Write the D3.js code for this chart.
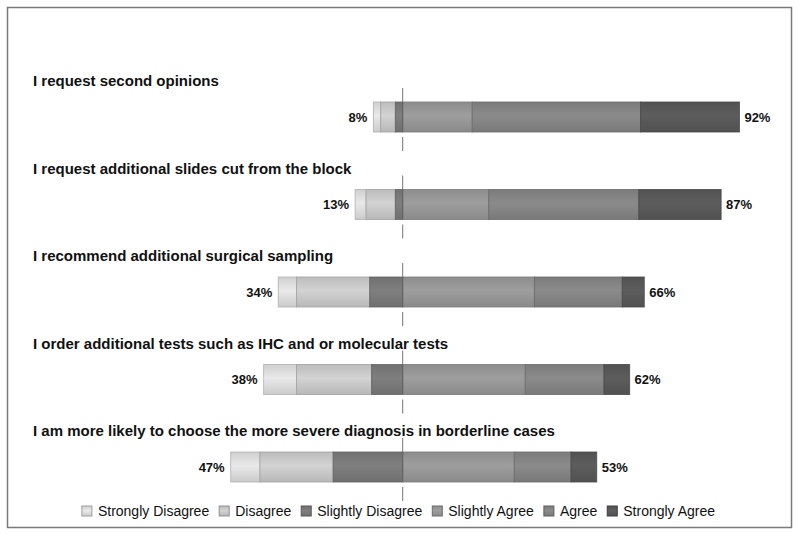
<!DOCTYPE html>
<html>
<head>
<meta charset="utf-8">
<script src="https://cdn.jsdelivr.net/npm/d3@7"></script>
<style>
  html, body { margin: 0; padding: 0; background: #fff; }
  svg { display: block; font-family: "Liberation Sans", Arial, Helvetica, sans-serif; }
</style>
</head>
<body>
<svg id="chart" width="800" height="536"></svg>
<script>
const questions = [
  "I request second opinions",
  "I request additional slides cut from the block",
  "I recommend additional surgical sampling",
  "I order additional tests such as IHC and or molecular tests",
  "I am more likely to choose the more severe diagnosis in borderline cases"
];
const categories = ["Strongly Disagree", "Disagree", "Slightly Disagree", "Slightly Agree", "Agree", "Strongly Agree"];
const stronglyDisagree = [2, 3, 5, 9, 8];
const disagree         = [4, 8, 20, 20.5, 20];
const slightlyDisagree = [2, 2, 9, 8.5, 19];
const slightlyAgree    = [19, 23.5, 36, 33.5, 30.5];
const agree            = [46, 41, 24, 21.5, 15.5];
const stronglyAgree    = [27, 22.5, 6, 7, 7];
const leftTotals  = ["8%", "13%", "34%", "38%", "47%"];
const rightTotals = ["92%", "87%", "66%", "62%", "53%"];
const colors = ["#e2e2e2", "#cdcdcd", "#7b7b7b", "#9a9a9a", "#878787", "#5a5a5a"];

const svg = d3.select("#chart");
const W = 800, H = 536;

// frame
svg.append("rect").attr("x", 7.5).attr("y", 7.5).attr("width", 784).attr("height", 520)
  .attr("fill", "#fff").attr("stroke", "#7a7a7a").attr("stroke-width", 1.5);

// gradients
const defs = svg.append("defs");
colors.forEach((c, i) => {
  const g = defs.append("linearGradient").attr("id", "g" + i)
    .attr("x1", 0).attr("y1", 0).attr("x2", 0).attr("y2", 1);
  g.append("stop").attr("offset", "0%").attr("stop-color", d3.color(c).darker(0.25));
  g.append("stop").attr("offset", "45%").attr("stop-color", d3.color(c).brighter(0.08));
  g.append("stop").attr("offset", "100%").attr("stop-color", d3.color(c).darker(0.3));
});

const x = d3.scaleLinear().domain([-50, 100]).range([402.7 - 183, 402.7 + 366]);
const y = d3.scalePoint().domain(questions).range([117, 467]);
const barH = 30;

const series = [stronglyDisagree, disagree, slightlyDisagree, slightlyAgree, agree, stronglyAgree];

questions.forEach((q, i) => {
  const cy = y(q);
  const top = cy - barH / 2;
  // segments: disagree side stacks leftwards from 0
  const negVals = [series[0][i], series[1][i], series[2][i]];
  const negTotal = negVals[0] + negVals[1] + negVals[2];
  let start = -negTotal;
  const segs = [];
  for (let k = 0; k < 6; k++) {
    const v = series[k][i];
    segs.push({ k, x0: start, x1: start + v });
    start += v;
  }
  const g = svg.append("g");
  g.selectAll("rect").data(segs).join("rect")
    .attr("x", d => x(d.x0))
    .attr("y", top)
    .attr("width", d => x(d.x1) - x(d.x0))
    .attr("height", barH)
    .attr("fill", d => `url(#g${d.k})`)
    .attr("stroke", d => d3.color(colors[d.k]).darker(0.7))
    .attr("stroke-opacity", 0.8)
    .attr("stroke-width", 1);

  // center line segment
  svg.append("line")
    .attr("x1", x(0)).attr("x2", x(0))
    .attr("y1", top - 14).attr("y2", top + barH + 19)
    .attr("stroke", "#777").attr("stroke-width", 1)
    .attr("stroke-dasharray", `14,${barH + 5}`);
  svg.append("line")
    .attr("x1", x(0)).attr("x2", x(0))
    .attr("y1", top).attr("y2", top + barH)
    .attr("stroke", "#5f5f5f").attr("stroke-width", 1);

  // question title
  svg.append("text").attr("x", 33).attr("y", top - 16)
    .attr("font-size", 15).attr("font-weight", "bold").attr("fill", "#111")
    .text(q);

  // totals
  svg.append("text").attr("x", x(-negTotal) - 6).attr("y", cy).attr("dy", "0.36em")
    .attr("text-anchor", "end").attr("font-size", 13).attr("font-weight", "bold").attr("fill", "#111")
    .text(leftTotals[i]);
  svg.append("text").attr("x", x(start) + 5).attr("y", cy).attr("dy", "0.36em")
    .attr("text-anchor", "start").attr("font-size", 13).attr("font-weight", "bold").attr("fill", "#111")
    .text(rightTotals[i]);
});

// legend
const leg = svg.append("g");
let lx = 0;
categories.forEach((c, i) => {
  const item = leg.append("g").attr("transform", `translate(${lx},0)`);
  item.append("rect").attr("x", 0).attr("y", -5).attr("width", 10).attr("height", 10)
    .attr("fill", `url(#g${i})`).attr("stroke", d3.color(colors[i]).darker(1)).attr("stroke-width", 1);
  const t = item.append("text").attr("x", 16).attr("y", 0).attr("dy", "0.35em")
    .attr("font-size", 14).attr("fill", "#111").text(c);
  lx += 16 + t.node().getComputedTextLength() + 10;
});
const legW = lx - 10;
leg.attr("transform", `translate(${398.5 - legW / 2},511)`);
</script>
</body>
</html>
